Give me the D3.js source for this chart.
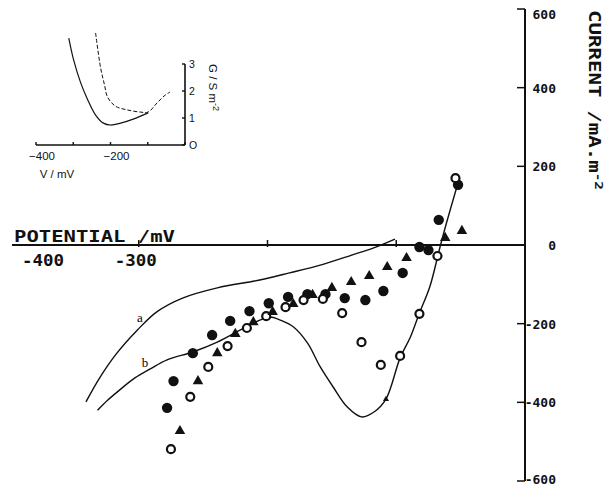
<!DOCTYPE html>
<html>
<head>
<meta charset="utf-8">
<script src="https://cdn.jsdelivr.net/npm/d3@7"></script>
<style>
  body { margin: 0; background: #fff; }
  svg { display: block; }
  .plot-txt { font-family: "DejaVu Sans Mono", monospace; font-weight: bold; fill: #111; }
  .inset-txt { font-family: "Liberation Sans", Arial, sans-serif; fill: #111; }
</style>
</head>
<body>
<div id="chart"></div>
<script>
// Set global variables (SVG dimensions)
var svgWidth = 615;
var svgHeight = 487;

// ---------------- data (potential mV, current mA.m-2) ----------------
var curveA_V = [-341, -330, -317, -301, -286, -266, -239, -206, -183, -159, -134, -118, -101];
var curveA_I = [-399, -336, -275, -216, -170, -135, -109, -89, -71, -51, -25, -8, 15];

var curveB_V = [-332, -324, -315, -303, -291, -278, -258, -239, -221, -206, -198, -190, -180, -169, -159, -149, -138, -127, -117, -108, -97, -89, -82, -74, -66, -61, -53];
var curveB_I = [-420, -394, -369, -338, -315, -292, -272, -247, -216, -191, -183, -191, -208, -249, -310, -361, -412, -437, -424, -392, -287, -234, -173, -107, -5, 56, 147];

var filledV = [-278, -273, -258, -243, -229, -214, -199, -184, -169, -155, -140, -124, -110, -95, -82, -75, -67, -52];
var filledI = [-414, -346, -275, -229, -193, -168, -148, -132, -125, -125, -135, -140, -117, -71, -5, -13, 64, 153];

var openV = [-275, -260, -246, -231, -216, -201, -186, -172, -157, -142, -127, -112, -97, -82, -68, -54];
var openI = [-519, -386, -310, -257, -211, -181, -158, -140, -137, -173, -247, -305, -282, -175, -28, 170];

var triV = [-268, -254, -239, -225, -211, -196, -180, -165, -150, -135, -121, -107, -92, -62, -49];
var triI = [-473, -346, -275, -226, -196, -170, -150, -127, -109, -94, -79, -56, -33, 18, 36];
// one small triangle sitting on curve b
var smallTriV = [-108];
var smallTriI = [-392];

var xTickValues = [-300, -200, -100];
var xTickLabels = [-400, -300];
var yTickValues = [-600, -400, -200, 0, 200, 400, 600];

// ---------------- inset data (potential mV, conductance S.m-2) ----------------
var insetSolidV = [-312, -299, -280, -261, -240, -219, -200, -173, -139, -99];
var insetSolidG = [3.96, 3.15, 2.30, 1.67, 1.11, 0.81, 0.74, 0.81, 0.96, 1.19];
var insetDashV = [-240, -227, -216, -208, -187, -155, -120, -99, -75, -53, -40];
var insetDashG = [4.15, 2.89, 2.22, 1.78, 1.44, 1.30, 1.22, 1.22, 1.56, 1.85, 1.96];
var insetXTicks = [-400, -300, -200, -100, 0];
var insetXLabels = [-400, -200];
var insetYTicks = [0, 1, 2, 3];

function zip(a, b) {
  return a.map(function(v, i) { return [v, b[i]]; });
}

var svg = d3.select("#chart")
  .append("svg")
  .attr("width", svgWidth)
  .attr("height", svgHeight);

// main scales
var xScale = d3.scaleLinear().domain([-400, 0]).range([10, 525]);
var yScale = d3.scaleLinear().domain([-600, 600]).range([481, 9]);

// x axis line (at zero current)
var axisLeftEnd = 12;
svg.append("line")
  .attr("x1", axisLeftEnd).attr("x2", xScale(0))
  .attr("y1", yScale(0)).attr("y2", yScale(0))
  .attr("stroke", "#111").attr("stroke-width", 2);

svg.selectAll(".xtick")
  .data(xTickValues)
  .enter()
  .append("line")
  .attr("x1", d => xScale(d)).attr("x2", d => xScale(d))
  .attr("y1", yScale(0) - 5).attr("y2", yScale(0) + 2)
  .attr("stroke", "#111").attr("stroke-width", 1.5);

svg.selectAll(".xlab")
  .data(xTickLabels)
  .enter()
  .append("text")
  .attr("class", "plot-txt")
  .attr("x", d => Math.max(xScale(d) - 3, axisLeftEnd + 31))
  .attr("y", yScale(0) + 21)
  .attr("text-anchor", "middle")
  .attr("textLength", 42)
  .attr("lengthAdjust", "spacingAndGlyphs")
  .style("font-size", "16px")
  .text(d => "-" + Math.abs(d));

svg.append("text")
  .attr("class", "plot-txt")
  .attr("x", 14)
  .attr("y", yScale(0) - 3)
  .attr("textLength", 161)
  .attr("lengthAdjust", "spacingAndGlyphs")
  .style("font-size", "16px")
  .text("POTENTIAL /mV");

// y axis (on the right, at zero potential)
svg.append("line")
  .attr("x1", xScale(0)).attr("x2", xScale(0))
  .attr("y1", yScale(600)).attr("y2", yScale(-600))
  .attr("stroke", "#111").attr("stroke-width", 2);

svg.selectAll(".ytick")
  .data(yTickValues.filter(d => d !== 0))
  .enter()
  .append("line")
  .attr("x1", xScale(0) - 8).attr("x2", xScale(0))
  .attr("y1", d => yScale(d)).attr("y2", d => yScale(d))
  .attr("stroke", "#111").attr("stroke-width", 1.5);

svg.selectAll(".ylab")
  .data(yTickValues)
  .enter()
  .append("text")
  .attr("class", "plot-txt")
  .attr("x", 556)
  .attr("y", d => yScale(d))
  .attr("dy", d => d === 600 ? "0.75em" : (d === -600 ? "0.2em" : "0.38em"))
  .attr("text-anchor", "end")
  .style("font-size", "13px")
  .text(d => d);

var yTitle = svg.append("text")
  .attr("class", "plot-txt")
  .attr("transform", "translate(589, 10) rotate(90)")
  .attr("textLength", 180)
  .attr("lengthAdjust", "spacingAndGlyphs")
  .style("font-size", "16px");
yTitle.append("tspan").text("CURRENT /mA.m");
yTitle.append("tspan").attr("dy", "-0.5em").style("font-size", "11px").text("-2");

// curves a and b
var line = d3.line()
  .x(d => xScale(d[0]))
  .y(d => yScale(d[1]))
  .curve(d3.curveCatmullRom);

svg.append("path")
  .attr("d", line(zip(curveA_V, curveA_I)))
  .attr("fill", "none").attr("stroke", "#111").attr("stroke-width", 1.4);

svg.append("path")
  .attr("d", line(zip(curveB_V, curveB_I)))
  .attr("fill", "none").attr("stroke", "#111").attr("stroke-width", 1.4);

svg.append("text")
  .attr("x", 140).attr("y", 322)
  .attr("text-anchor", "middle")
  .style("font-family", "Liberation Serif, serif").style("font-size", "13px")
  .text("a");
svg.append("text")
  .attr("x", 145).attr("y", 367)
  .attr("text-anchor", "middle")
  .style("font-family", "Liberation Serif, serif").style("font-size", "13px")
  .text("b");

// scatter points
svg.append("g").selectAll("circle")
  .data(zip(filledV, filledI))
  .enter()
  .append("circle")
  .attr("cx", d => xScale(d[0]))
  .attr("cy", d => yScale(d[1]))
  .attr("r", 5.2)
  .attr("fill", "#111");

svg.append("g").selectAll("circle")
  .data(zip(openV, openI))
  .enter()
  .append("circle")
  .attr("cx", d => xScale(d[0]))
  .attr("cy", d => yScale(d[1]))
  .attr("r", 4)
  .attr("fill", "#fff")
  .attr("stroke", "#111")
  .attr("stroke-width", 2.2);

var tri = d3.symbol().type(d3.symbolTriangle).size(48);
svg.append("g").selectAll("path")
  .data(zip(triV, triI))
  .enter()
  .append("path")
  .attr("d", tri)
  .attr("transform", d => `translate(${xScale(d[0])}, ${yScale(d[1])})`)
  .attr("fill", "#111");

var smallTri = d3.symbol().type(d3.symbolTriangle).size(16);
svg.append("g").selectAll("path")
  .data(zip(smallTriV, smallTriI))
  .enter()
  .append("path")
  .attr("d", smallTri)
  .attr("transform", d => `translate(${xScale(d[0])}, ${yScale(d[1])})`)
  .attr("fill", "#111");

// ---------------- inset ----------------
var ix = d3.scaleLinear().domain([-400, 0]).range([36, 185]);
var iy = d3.scaleLinear().domain([0, 3]).range([145, 64]);

var inset = svg.append("g");

inset.append("line")
  .attr("x1", ix(-400)).attr("x2", ix(0))
  .attr("y1", iy(0)).attr("y2", iy(0))
  .attr("stroke", "#111").attr("stroke-width", 1.6);
inset.append("line")
  .attr("x1", ix(0)).attr("x2", ix(0))
  .attr("y1", iy(0)).attr("y2", iy(3))
  .attr("stroke", "#111").attr("stroke-width", 1.6);

inset.selectAll(".ixt")
  .data(insetXTicks)
  .enter()
  .append("line")
  .attr("x1", d => ix(d)).attr("x2", d => ix(d))
  .attr("y1", iy(0)).attr("y2", iy(0) - 3)
  .attr("stroke", "#111").attr("stroke-width", 1.4);

inset.selectAll(".iyt")
  .data(insetYTicks)
  .enter()
  .append("line")
  .attr("x1", ix(0) - 3).attr("x2", ix(0))
  .attr("y1", d => iy(d)).attr("y2", d => iy(d))
  .attr("stroke", "#111").attr("stroke-width", 1.4);

inset.selectAll(".ixl")
  .data(insetXLabels)
  .enter()
  .append("text")
  .attr("class", "inset-txt")
  .attr("x", d => ix(d) + 6)
  .attr("y", iy(0) + 15)
  .attr("text-anchor", "middle")
  .style("font-size", "11.5px")
  .text(d => "\u2212" + Math.abs(d));

inset.selectAll(".iyl")
  .data(insetYTicks)
  .enter()
  .append("text")
  .attr("class", "inset-txt")
  .attr("x", ix(0) + 4)
  .attr("y", d => iy(d))
  .attr("dy", "0.35em")
  .style("font-size", "10.5px")
  .text(d => d === 0 ? "O" : d);

inset.append("text")
  .attr("class", "inset-txt")
  .attr("x", 57).attr("y", 178)
  .attr("text-anchor", "middle")
  .style("font-size", "11.5px")
  .text("V / mV");

var gTitle = inset.append("text")
  .attr("class", "inset-txt")
  .attr("transform", "translate(209, 64) rotate(90)")
  .style("font-size", "11.5px");
gTitle.append("tspan").text("G / S m");
gTitle.append("tspan").attr("dy", "-0.4em").style("font-size", "9px").text("-2");

var iline = d3.line()
  .x(d => ix(d[0]))
  .y(d => iy(d[1]))
  .curve(d3.curveCatmullRom);

inset.append("path")
  .attr("d", iline(zip(insetSolidV, insetSolidG)))
  .attr("fill", "none").attr("stroke", "#111").attr("stroke-width", 1.2);

inset.append("path")
  .attr("d", iline(zip(insetDashV, insetDashG)))
  .attr("fill", "none").attr("stroke", "#111").attr("stroke-width", 1)
  .attr("stroke-dasharray", "4,2");
</script>
</body>
</html>
